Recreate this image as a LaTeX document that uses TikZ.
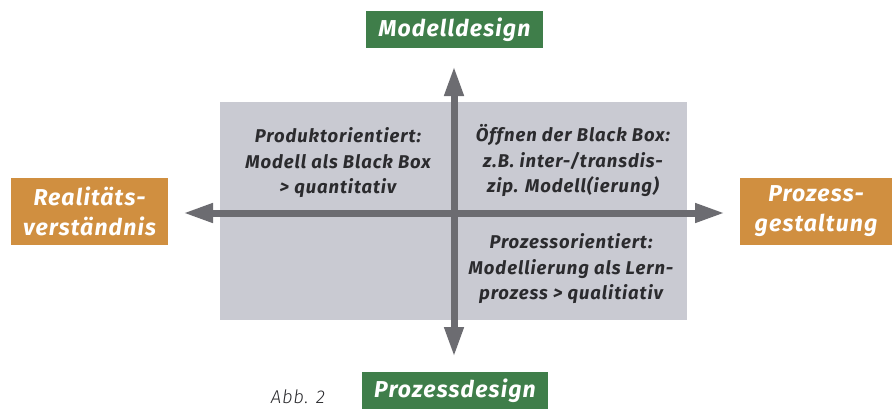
\documentclass[tikz,border=0pt]{standalone}
\usepackage{fontspec}
\setmainfont{Fira Sans}
\newfontfamily\labfont[LetterSpace=5]{Fira Sans}
\newfontfamily\capfont[LetterSpace=4]{Fira Sans Light}
\usetikzlibrary{arrows.meta}
\definecolor{dgreen}{HTML}{3F7E4A}
\definecolor{dorange}{HTML}{D08F40}
\definecolor{lgray}{HTML}{C9CAD2}
\definecolor{agray}{HTML}{6C6C71}
\definecolor{tgray}{HTML}{2B2B2E}
\tikzset{
  tagbox/.style={inner sep=0pt, text=white, font=\labfont\bfseries\itshape\fontsize{23}{30}\selectfont, align=center},
  quad/.style={inner sep=0pt, text=tgray, font=\labfont\bfseries\itshape\fontsize{18.5}{25.5}\selectfont, align=center},
  axis/.style={draw=agray, line width=7pt, {Triangle[length=30pt,width=18pt]}-{Triangle[length=30pt,width=18pt]}}
}
\begin{document}
\begin{tikzpicture}[x=1pt,y=-1pt]
\useasboundingbox (0,0) rectangle (895,408);
\clip (0,0) rectangle (895,408);
\fill[white] (0,0) rectangle (895,408);
% grey field
\node[fill=lgray, minimum width=467pt, minimum height=218pt, inner sep=0pt] (field) at (453.5,211) {};
% tag boxes
\fill[dgreen] (366,11) rectangle (543,48);
\node[tagbox] (top) at (454.5,29.5) {Modelldesign};
\fill[dgreen] (362,372) rectangle (548,420);
\node[tagbox, anchor=base] (bot) at (455,397) {Prozessdesign};
\fill[dorange] (11,178) rectangle (168,245);
\node[tagbox] (left) at (89.5,211) {Realitäts-\\verständnis};
\fill[dorange] (740,178) rectangle (892,245);
\node[tagbox] (right) at (816,211) {Prozess-\\gestaltung};
% axes
\coordinate (ltip) at (183,213);
\coordinate (rtip) at (725,213);
\coordinate (ttip) at (454,66);
\coordinate (btip) at (454,357);
\draw[axis] (ltip) -- (rtip);
\draw[axis] (btip) -- (ttip);
% quadrant texts
\node[quad] (q1) at (338,163) {Produktorientiert:\\Modell als Black Box\\> quantitativ};
\node[quad] (q2) at (573,161) {Öffnen der Black Box:\\z.B. inter-/transdis-\\zip. Modell(ierung)};
\node[quad] (q3) at (571,269) {Prozessorientiert:\\Modellierung als Lern-\\prozess > qualitiativ};
% caption
\node[text=tgray, font=\capfont\itshape\fontsize{18.5}{22}\selectfont, anchor=base, inner sep=0pt] (cap) at (298,403) {Abb. 2};
\end{tikzpicture}
\end{document}
